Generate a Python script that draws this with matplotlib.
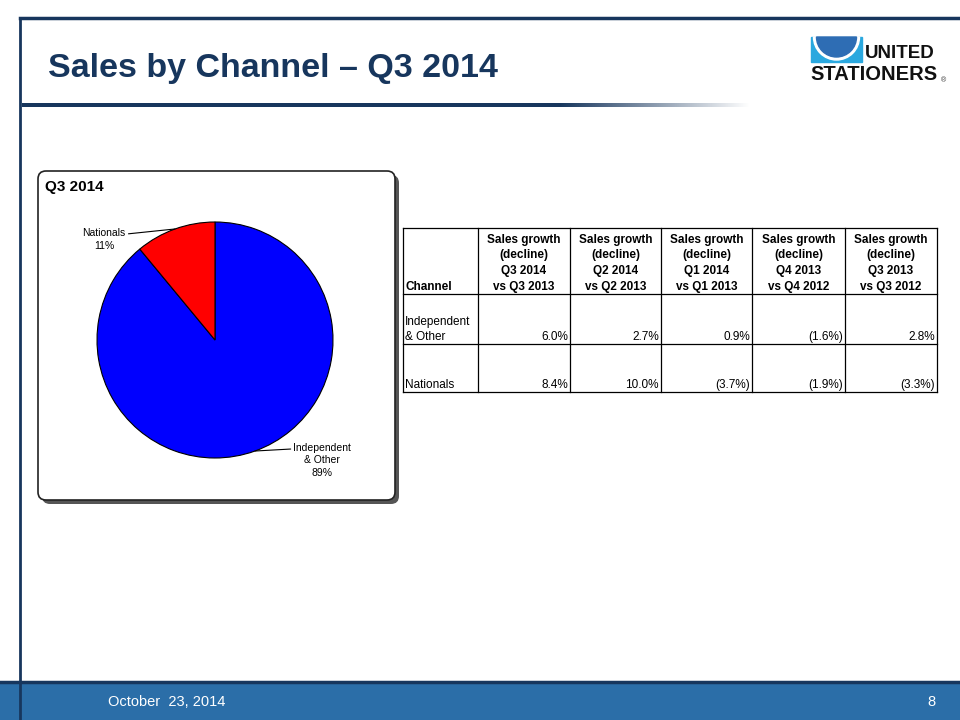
import numpy as np
import matplotlib.pyplot as plt
from matplotlib.patches import Rectangle, FancyBboxPatch, Wedge

plt.rcParams['font.family'] = ['Liberation Sans', 'DejaVu Sans']

# data
slide_title = 'Sales by Channel \u2013 Q3 2014'
pie_title = 'Q3 2014'
channels = ['Independent\n& Other', 'Nationals']
share = [89, 11]
pie_colors = ['#0000FF', '#FF0000']

col_headers = ['Channel',
               'Sales growth\n(decline)\nQ3 2014\nvs Q3 2013',
               'Sales growth\n(decline)\nQ2 2014\nvs Q2 2013',
               'Sales growth\n(decline)\nQ1 2014\nvs Q1 2013',
               'Sales growth\n(decline)\nQ4 2013\nvs Q4 2012',
               'Sales growth\n(decline)\nQ3 2013\nvs Q3 2012']
row_labels = ['Independent\n& Other', 'Nationals']
growth = [[6.0, 2.7, 0.9, -1.6, 2.8],
          [8.4, 10.0, -3.7, -1.9, -3.3]]
footer_date = 'October  23, 2014'
page_no = '8'

navy = '#17365D'
W, H = 960, 720

fig = plt.figure(figsize=(9.6, 7.2), dpi=100)
ax = fig.add_axes([0, 0, 1, 1])
ax.set_xlim(0, W)
ax.set_ylim(H, 0)
ax.axis('off')

# slide frame
ax.plot([20, W], [18, 18], color=navy, lw=2.5)
ax.plot([20, 20], [18, H], color=navy, lw=2)
ax.text(48, 68, slide_title, fontsize=24.5, fontweight='bold', color=navy,
        va='center', ha='left')

# gradient rule under title
grad = np.ones((1, 400, 4))
xs = np.linspace(22, 750, 400)
fade = np.clip((750 - xs) / (750 - 560), 0, 1)
base = np.array([0x17, 0x36, 0x5D]) / 255
grad[0, :, :3] = base * fade[:, None] + (1 - fade[:, None])
ax.imshow(grad, extent=[22, 750, 107, 103], aspect='auto', zorder=2)

# logo
ax.add_patch(Rectangle((811, 37), 51, 25, color='#2AA8DF', zorder=3))
ax.add_patch(Wedge((836.5, 37), 23, 0, 180, color='white', zorder=4))
ax.add_patch(Wedge((836.5, 37), 20, 0, 180, color='#2E6DB4', zorder=5))
ax.text(865, 54, 'UNITED', fontsize=13.5, fontweight='bold', color='#111111',
        va='center', ha='left')
ax.text(810, 75, 'STATIONERS', fontsize=14.5, fontweight='bold', color='#111111',
        va='center', ha='left')
ax.text(941, 81, '\u00ae', fontsize=5, color='#333333', va='center', ha='left')

# pie panel box with shadow
ax.add_patch(FancyBboxPatch((42, 175), 357, 329, boxstyle='round,pad=0,rounding_size=8',
                            fc='#555555', ec='none', zorder=2))
ax.add_patch(FancyBboxPatch((38, 171), 357, 329, boxstyle='round,pad=0,rounding_size=8',
                            fc='white', ec='#222222', lw=1.2, zorder=3))
ax.text(45, 187, pie_title, fontsize=11, fontweight='bold', va='center', ha='left', zorder=4)

# pie
pax = fig.add_axes([97 / W, (H - 458) / H, 236 / W, 236 / H])
pax.pie(share, colors=pie_colors, startangle=90 + share[1] / 100 * 360, counterclock=True,
        wedgeprops=dict(edgecolor='black', linewidth=0.8))
pax.set_xlim(-1, 1)
pax.set_ylim(-1, 1)
pax.set_aspect('equal')
pax.set_zorder(5)

start = 90 + share[1] / 100 * 360
mid_ind = np.deg2rad(start + share[0] / 100 * 180)
mid_nat = np.deg2rad(90 + share[1] / 100 * 180)
lbl_font = dict(fontsize=7.5, ha='center', va='center', linespacing=1.3)
pax.annotate(f'{channels[1]}\n{share[1]}%', xy=(np.cos(mid_nat), np.sin(mid_nat)),
             xytext=(-0.94, 0.85), arrowprops=dict(arrowstyle='-', color='black', lw=0.8,
                                                   shrinkA=0, shrinkB=0, relpos=(1, 0.75)),
             annotation_clip=False, **lbl_font)
pax.annotate(f'{channels[0]}\n{share[0]}%', xy=(np.cos(mid_ind), np.sin(mid_ind)),
             xytext=(0.91, -1.02), arrowprops=dict(arrowstyle='-', color='black', lw=0.8,
                                                   shrinkA=0, shrinkB=0, relpos=(0, 0.83)),
             annotation_clip=False, **lbl_font)

# table
col_x = [403, 478, 570, 661, 752, 845, 937]
row_y = [228, 294, 344, 392]
for x in col_x:
    ax.plot([x, x], [row_y[0], row_y[-1]], color='black', lw=0.9)
for y in row_y:
    ax.plot([col_x[0], col_x[-1]], [y, y], color='black', lw=0.9)
for j, hdr in enumerate(col_headers):
    if j == 0:
        ax.text(col_x[0] + 2, row_y[1] - 1, hdr, fontsize=8.5, fontweight='bold',
                ha='left', va='bottom')
    else:
        ax.text((col_x[j] + col_x[j + 1]) / 2, row_y[1] - 1, hdr, fontsize=8.5,
                fontweight='bold', ha='center', va='bottom',
                multialignment='center', linespacing=1.42)
for i, lab in enumerate(row_labels):
    ax.text(col_x[0] + 2, row_y[i + 2] - 1, lab, fontsize=8.5,
            ha='left', va='bottom', linespacing=1.3)
    for j, v in enumerate(growth[i]):
        s = f'{v:.1f}%' if v >= 0 else f'({abs(v):.1f}%)'
        ax.text(col_x[j + 2] - 2, row_y[i + 2] - 1, s, fontsize=8.5,
                ha='right', va='bottom')

# footer
ax.add_patch(Rectangle((0, 682), W, 38, color='#2B6EA8', zorder=3))
ax.plot([0, W], [682, 682], color=navy, lw=2.5, zorder=4)
ax.plot([20, 20], [682, H], color=navy, lw=2, zorder=4)
ax.text(108, 702, footer_date, fontsize=10.5, color='white', va='center', ha='left', zorder=5)
ax.text(936, 702, page_no, fontsize=10.5, color='white', va='center', ha='right', zorder=5)

fig.savefig('out.png', dpi=100)
